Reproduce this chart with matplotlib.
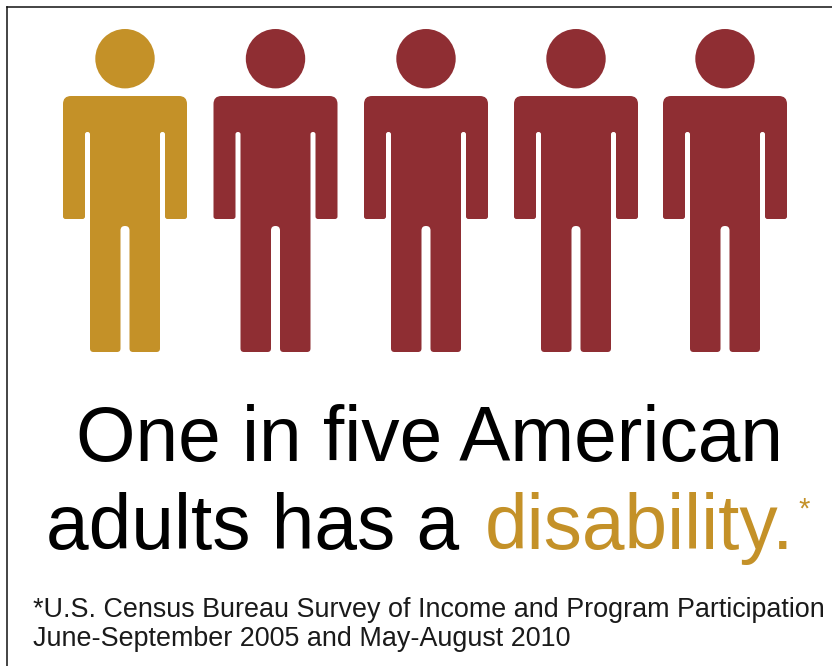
import matplotlib
matplotlib.use('Agg')
import matplotlib.pyplot as plt
from matplotlib.patches import Circle, PathPatch
from matplotlib.path import Path

GOLD = '#C49128'
RED = '#8F2E33'
SANS = 'Liberation Sans'

# figure drawn in picture pixels, y going down
person_centers = [125, 275.5, 426, 576, 725]
person_colors = [GOLD, RED, RED, RED, RED]
headline_1 = 'One in five American'
headline_2 = 'adults has a'
headline_3 = 'disability.'
source_lines = ['*U.S. Census Bureau Survey of Income and Program Participation',
                'June-September 2005 and May-August 2010']

# right half of the figure outline: x offset, y, corner radius
half_outline = [(62, 96, 8), (62, 219, 2.5), (40, 219, 2.5), (40, 132, 2.3),
                (35, 132, 2.3), (35, 352, 3.5), (4.5, 352, 3.5), (4.5, 226, 4.4)]


def rounded_path(corners):
    n = len(corners)
    verts, codes = [], []
    for i, (x, y, r) in enumerate(corners):
        px, py, _ = corners[i - 1]
        nx, ny, _ = corners[(i + 1) % n]
        d0 = ((px - x)**2 + (py - y)**2)**0.5
        d1 = ((nx - x)**2 + (ny - y)**2)**0.5
        start = (x + (px - x) * r / d0, y + (py - y) * r / d0)
        end = (x + (nx - x) * r / d1, y + (ny - y) * r / d1)
        verts += [start, (x, y), end]
        codes += [Path.MOVETO if i == 0 else Path.LINETO, Path.CURVE3, Path.CURVE3]
    verts.append(verts[0])
    codes.append(Path.CLOSEPOLY)
    return Path(verts, codes)


def draw_person(ax, cx, color):
    ax.add_patch(Circle((cx, 58.7), 29.7, fc=color, ec='none'))
    right = [(cx + dx, y, r) for dx, y, r in half_outline]
    left = [(cx - dx, y, r) for dx, y, r in reversed(half_outline)]
    ax.add_patch(PathPatch(rounded_path(right + left), fc=color, ec='none'))


fig = plt.figure(figsize=(8.32, 6.66), dpi=100, facecolor='white')
ax = fig.add_axes([0, 0, 1, 1])
ax.set_xlim(0, 832)
ax.set_ylim(666, 0)
ax.axis('off')

for cx, color in zip(person_centers, person_colors):
    draw_person(ax, cx, color)

ax.text(429, 461, headline_1, fontsize=55.2, family=SANS, color='black',
        ha='center', va='baseline')
ax.text(46, 549, headline_2, fontsize=55.2, family=SANS, color='black',
        ha='left', va='baseline')
ax.text(485, 549, headline_3, fontsize=55.2, family=SANS, color=GOLD,
        ha='left', va='baseline')
ax.text(798, 518, '*', fontsize=21, family=SANS, color=GOLD, ha='left', va='baseline')

ax.text(33, 617, source_lines[0], fontsize=19.4, family=SANS, color='#1a1a1a',
        ha='left', va='baseline')
ax.text(33, 646, source_lines[1], fontsize=19.4, family=SANS, color='#1a1a1a',
        ha='left', va='baseline')

# thin frame of the picture, left and top only
ax.plot([7.4, 7.4], [7.4, 666], color='#111111', lw=1.1)
ax.plot([7.4, 832], [7.4, 7.4], color='#111111', lw=1.1)

fig.savefig('out.png', dpi=100)
